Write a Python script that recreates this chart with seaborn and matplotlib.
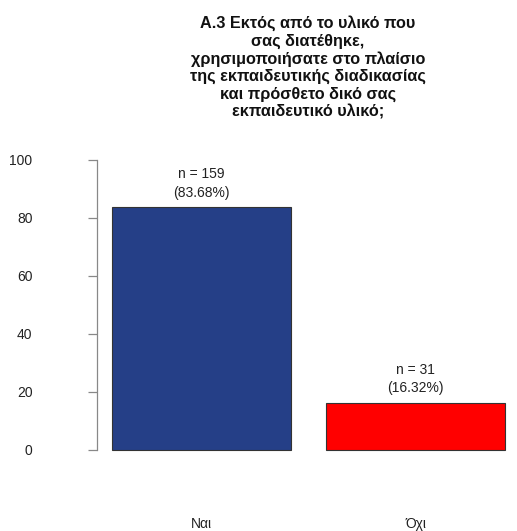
import matplotlib
matplotlib.use("Agg")
import matplotlib.pyplot as plt
import seaborn as sns
import pandas as pd

# -------------------------------------------------
# data
categories = ["Ναι", "Όχι"]
counts = [159, 31]
percents = [83.68, 16.32]
bar_colors = ["#253F87", "#FF0000"]
title = ("A.3 Εκτός από το υλικό που\nσας διατέθηκε,\n"
         "χρησιμοποιήσατε στο πλαίσιο\nτης εκπαιδευτικής διαδικασίας\n"
         "και πρόσθετο δικό σας\nεκπαιδευτικό υλικό;")
y_ticks = [0, 20, 40, 60, 80, 100]

df = pd.DataFrame({"cat": categories, "pct": percents})

sns.set_style("white")
plt.rcParams["font.family"] = ["Liberation Sans", "DejaVu Sans"]

W, H = 517, 531
fig = plt.figure(figsize=(W / 100, H / 100), dpi=100)
# plot region in pixels: x 97..517, y 148..461.6
ax = fig.add_axes([97 / W, 1 - 461.6 / H, (517 - 97) / W, (461.6 - 148) / H])

sns.barplot(data=df, x="cat", y="pct", hue="cat", palette=bar_colors,
            saturation=1, width=0.836, edgecolor="#333333", linewidth=0.8,
            legend=False, ax=ax)

ax.set_xlim(-0.488, 1.474)
ax.set_ylim(-4, 104)
ax.set_xlabel("")
ax.set_ylabel("")

# y axis like R: only the left line, from 0 to 100
for s in ["top", "right", "bottom"]:
    ax.spines[s].set_visible(False)
ax.spines["left"].set_bounds(0, 100)
ax.spines["left"].set_color("#888888")
ax.spines["left"].set_linewidth(0.9)
ax.set_yticks(y_ticks)
ax.tick_params(axis="y", left=True, length=6.5, width=0.9, color="#888888",
               pad=40, labelsize=10, labelcolor="#222222")
ax.tick_params(axis="x", bottom=False, length=0, pad=40, labelsize=10,
               labelcolor="#222222")

# labels over the bars
for i, (n, p) in enumerate(zip(counts, percents)):
    ax.annotate(f"n = {n}", (i, p), xytext=(0, 23.8), textcoords="offset points",
                ha="center", va="center", fontsize=10, color="#222222")
    ax.annotate(f"({p:.2f}%)", (i, p), xytext=(0, 10.2), textcoords="offset points",
                ha="center", va="center", fontsize=10, color="#222222")

fig.text(308 / W, 1 - 15 / H, title, ha="center", va="top", fontsize=11.7,
         fontweight="bold", linespacing=1.2, color="#111111")

fig.savefig("out.png", dpi=100)
